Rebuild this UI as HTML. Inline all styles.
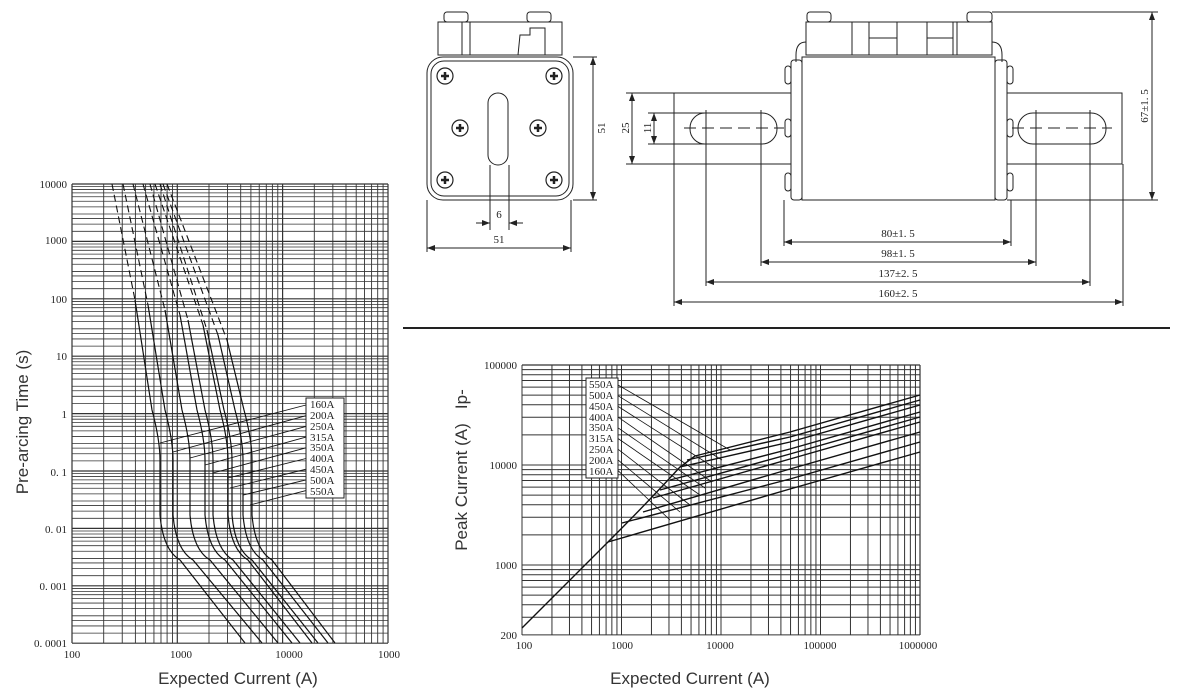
<!DOCTYPE html>
<html><head><meta charset="utf-8"><style>
html,body{margin:0;padding:0;background:#fff;}
svg{display:block;}
.t{font-family:"Liberation Serif",serif;font-size:11px;fill:#222;}
.ax{font-family:"Liberation Sans",sans-serif;font-size:17px;fill:#333;}
.d{stroke:#222;stroke-width:1;fill:none;}
</style></head><body>
<svg id="s" width="1181" height="694" viewBox="0 0 1181 694" xmlns="http://www.w3.org/2000/svg">
<defs>
<marker id="ar" markerWidth="8" markerHeight="6" refX="8" refY="3" orient="auto-start-reverse"><path d="M0,0 L8,3 L0,6 z" fill="#222"/></marker>
</defs>
<g id="grid"></g>
<g id="curves"></g>

<g class="t" text-anchor="end">
<text x="67" y="188">10000</text><text x="67" y="244">1000</text><text x="67" y="303">100</text>
<text x="67" y="360">10</text><text x="67" y="418">1</text><text x="67" y="476">0. 1</text>
<text x="67" y="533">0. 01</text><text x="67" y="590">0. 001</text><text x="67" y="647">0. 0001</text>
</g>
<g class="t" text-anchor="middle">
<text x="72" y="658">100</text><text x="181" y="658">1000</text><text x="289" y="658">10000</text><text x="389" y="658">1000</text>
</g>
<text class="ax" transform="translate(28,422) rotate(-90)" text-anchor="middle">Pre-arcing Time (s)</text>
<text class="ax" x="238" y="684" text-anchor="middle">Expected Current (A)</text>
<rect x="306" y="398" width="38" height="100" fill="#fff" stroke="#222"/>
<g class="t" font-size="10.5">
<text x="310" y="408">160A</text><text x="310" y="419">200A</text><text x="310" y="430">250A</text>
<text x="310" y="441">315A</text><text x="310" y="451">350A</text><text x="310" y="462">400A</text>
<text x="310" y="473">450A</text><text x="310" y="484">500A</text><text x="310" y="495">550A</text>
</g>

<g class="t" text-anchor="end">
<text x="517" y="369">100000</text><text x="517" y="469">10000</text><text x="517" y="569">1000</text><text x="517" y="639">200</text>
</g>
<g class="t" text-anchor="middle">
<text x="524" y="649">100</text><text x="622" y="649">1000</text><text x="720" y="649">10000</text><text x="820" y="649">100000</text><text x="918" y="649">1000000</text>
</g>
<text class="ax" transform="translate(467,470) rotate(-90)" text-anchor="middle" xml:space="preserve">Peak Current (A)   Ip-</text>
<text class="ax" x="690" y="684" text-anchor="middle">Expected Current (A)</text>
<rect x="586" y="378" width="32" height="100" fill="#fff" stroke="#222"/>
<g class="t" font-size="10.5">
<text x="589" y="388">550A</text><text x="589" y="399">500A</text><text x="589" y="410">450A</text>
<text x="589" y="421">400A</text><text x="589" y="431">350A</text><text x="589" y="442">315A</text>
<text x="589" y="453">250A</text><text x="589" y="464">200A</text><text x="589" y="475">160A</text>
</g>

<line x1="403" y1="328" x2="1170" y2="328" stroke="#222" stroke-width="2"/>

<g class="d" stroke-width="1.2">
<rect x="438" y="22" width="124" height="33"/>
<rect x="444" y="12" width="24" height="10" rx="3"/><rect x="527" y="12" width="24" height="10" rx="3"/>
<line x1="462" y1="22" x2="462" y2="55"/><line x1="470" y1="22" x2="470" y2="55"/>
<path d="M518,55 L520,35 L530,35 L530,28 L545,28 L545,55"/>
<rect x="427" y="57" width="146" height="143" rx="16"/>
<rect x="431" y="61" width="138" height="135" rx="13"/>
<rect x="488" y="93" width="20" height="72" rx="10"/>
</g>
<g id="screws1"></g>
<g class="d">
<line x1="573" y1="57" x2="597" y2="57"/><line x1="573" y1="200" x2="597" y2="200"/>
<line x1="593" y1="57" x2="593" y2="200" marker-start="url(#ar)" marker-end="url(#ar)"/>
<line x1="490" y1="165" x2="490" y2="230"/><line x1="509" y1="165" x2="509" y2="230"/>
<line x1="476" y1="223" x2="490" y2="223" marker-end="url(#ar)"/><line x1="523" y1="223" x2="509" y2="223" marker-end="url(#ar)"/>
<line x1="427" y1="200" x2="427" y2="252"/><line x1="571" y1="200" x2="571" y2="252"/>
<line x1="427" y1="248" x2="571" y2="248" marker-start="url(#ar)" marker-end="url(#ar)"/>
</g>
<g class="t" font-size="12" text-anchor="middle">
<text x="499" y="218">6</text><text x="499" y="243">51</text>
<text transform="translate(605,128) rotate(-90)">51</text>
</g>

<g class="d" stroke-width="1.2">
<rect x="674" y="93" width="117" height="71"/>
<rect x="1007" y="93" width="115" height="71"/>
<rect x="690" y="113" width="87" height="31" rx="15"/>
<rect x="1018" y="113" width="88" height="31" rx="15"/>
<rect x="791" y="60" width="11" height="140" rx="3"/>
<rect x="995" y="60" width="12" height="140" rx="3"/>
<rect x="802" y="57" width="193" height="143" fill="#fff"/>
<rect x="806" y="22" width="186" height="33"/>
<rect x="807" y="12" width="24" height="10" rx="3"/><rect x="967" y="12" width="25" height="10" rx="3"/>
<line x1="852" y1="22" x2="852" y2="55"/><line x1="869" y1="22" x2="869" y2="55"/><line x1="897" y1="22" x2="897" y2="55"/>
<line x1="927" y1="22" x2="927" y2="55"/><line x1="953" y1="22" x2="953" y2="55"/><line x1="957" y1="22" x2="957" y2="55"/>
<line x1="869" y1="38" x2="897" y2="38"/><line x1="927" y1="38" x2="953" y2="38"/>
<path d="M806,42 Q796,42 796,55 L796,62"/><path d="M992,42 Q1002,42 1002,55 L1002,62"/>
<rect x="785" y="66" width="6" height="18" rx="3"/><rect x="785" y="119" width="6" height="18" rx="3"/><rect x="785" y="173" width="6" height="18" rx="3"/>
<rect x="1007" y="66" width="6" height="18" rx="3"/><rect x="1007" y="119" width="6" height="18" rx="3"/><rect x="1007" y="173" width="6" height="18" rx="3"/>
</g>
<g class="d" stroke-dasharray="12,6" stroke-width="0.8">
<line x1="684" y1="128" x2="784" y2="128"/><line x1="1012" y1="128" x2="1112" y2="128"/>
</g>
<g class="d" stroke-width="0.8">
<line x1="992" y1="12" x2="1158" y2="12"/><line x1="1007" y1="200" x2="1158" y2="200"/>
<line x1="1152" y1="12" x2="1152" y2="200" marker-start="url(#ar)" marker-end="url(#ar)"/>
<line x1="626" y1="93" x2="674" y2="93"/><line x1="626" y1="164" x2="674" y2="164"/>
<line x1="632" y1="93" x2="632" y2="164" marker-start="url(#ar)" marker-end="url(#ar)"/>
<line x1="648" y1="113" x2="706" y2="113"/><line x1="648" y1="144" x2="706" y2="144"/>
<line x1="654" y1="113" x2="654" y2="144" marker-start="url(#ar)" marker-end="url(#ar)"/>
<line x1="784" y1="200" x2="784" y2="246"/><line x1="1011" y1="200" x2="1011" y2="246"/>
<line x1="761" y1="110" x2="761" y2="266"/><line x1="1036" y1="110" x2="1036" y2="266"/>
<line x1="706" y1="110" x2="706" y2="286"/><line x1="1090" y1="110" x2="1090" y2="286"/>
<line x1="674" y1="164" x2="674" y2="306"/><line x1="1123" y1="164" x2="1123" y2="306"/>
<line x1="784" y1="242" x2="1011" y2="242" marker-start="url(#ar)" marker-end="url(#ar)"/>
<line x1="761" y1="262" x2="1036" y2="262" marker-start="url(#ar)" marker-end="url(#ar)"/>
<line x1="706" y1="282" x2="1090" y2="282" marker-start="url(#ar)" marker-end="url(#ar)"/>
<line x1="674" y1="302" x2="1123" y2="302" marker-start="url(#ar)" marker-end="url(#ar)"/>
</g>
<g class="t" font-size="12" text-anchor="middle">
<text x="898" y="237">80±1. 5</text><text x="898" y="257">98±1. 5</text>
<text x="898" y="277">137±2. 5</text><text x="898" y="297">160±2. 5</text>
<text transform="translate(1148,106) rotate(-90)">67±1. 5</text>
<text transform="translate(629,128) rotate(-90)">25</text>
<text transform="translate(651,128) rotate(-90)">11</text>
</g>
</svg>
<script>
var NS="http://www.w3.org/2000/svg";
function el(p,t,a){var e=document.createElementNS(NS,t);for(var k in a)e.setAttribute(k,a[k]);p.appendChild(e);return e;}
var g=document.getElementById("grid"),c=document.getElementById("curves");
var L=Math.log10;
function lx(v){return 72+L(v/100)*105.3;}
function ly(v){return 184+(4-L(v))*57.4;}
for(var d=0;d<3;d++)for(var k=1;k<10;k++){var x=lx(100*k*Math.pow(10,d));el(g,"line",{x1:x,x2:x,y1:184,y2:643,stroke:"#333","stroke-width":k==1?1.2:0.9});}
el(g,"line",{x1:388,x2:388,y1:184,y2:643,stroke:"#333","stroke-width":1.2});
var ks=[1,1.5,2,2.5,3,4,5,6,7,8,9];
for(var d=-4;d<4;d++)for(var i=0;i<ks.length;i++){var y=ly(ks[i]*Math.pow(10,d));el(g,"line",{x1:72,x2:388,y1:y,y2:y,stroke:"#333","stroke-width":ks[i]==1?1.2:0.8});}
el(g,"line",{x1:72,x2:388,y1:184,y2:184,stroke:"#333","stroke-width":1.2});
function rx(v){return 522+L(v/100)*99.5;}
function ry(v){return 365+(5-L(v))*100;}
for(var d=0;d<4;d++)for(var k=1;k<10;k++){var x=rx(100*k*Math.pow(10,d));el(g,"line",{x1:x,x2:x,y1:365,y2:635,stroke:"#333","stroke-width":1});}
el(g,"line",{x1:920,x2:920,y1:365,y2:635,stroke:"#333","stroke-width":1.2});
for(var d=2;d<5;d++)for(var k=1;k<10;k++){var v=k*Math.pow(10,d);if(v<200)continue;var y=ry(v);el(g,"line",{x1:522,x2:920,y1:y,y2:y,stroke:"#333","stroke-width":1});}
el(g,"line",{x1:522,x2:920,y1:365,y2:365,stroke:"#333","stroke-width":1.2});
var as=[160,173,190,205,213,228,232,243,252],bs=[245,262,278,292,300,312,318,328,335],ts=[112,123,133,143,150,155,160,163,167];
for(var i=0;i<9;i++){var a=as[i],b=bs[i],ye=300+i*5;
el(c,"path",{d:"M"+ts[i]+",184 L"+(a-25)+","+ye,stroke:"#111","stroke-width":1.1,fill:"none","stroke-dasharray":"7,4"});
el(c,"path",{d:"M"+(a-25)+","+ye+" L"+(a-8)+",410 Q"+a+",440 "+a+",460 L"+a+",515 Q"+(a+3)+",550 "+(a+20)+",560 L"+b+",643",stroke:"#111","stroke-width":1.2,fill:"none"});
}
var lp=[[160,443],[173,452],[190,458],[205,465],[213,473],[228,478],[230,488],[243,495],[250,505]];
for(var i=0;i<9;i++)el(c,"line",{x1:306,y1:405+i*10.7,x2:lp[i][0],y2:lp[i][1],stroke:"#111","stroke-width":0.9});
el(c,"path",{d:"M522,628 L608,542 Q650,500 680,467 L695,456",stroke:"#111","stroke-width":1.4,fill:"none"});
var br=[[608,542],[622,523],[643,512],[653,498],[660,490],[670,480],[680,467],[687,460],[695,456]];
var ye=[452,442,432,422,417,412,405,400,395];
for(var i=0;i<9;i++){var y790=ye[i]+37;var p="M"+br[i][0]+","+br[i][1]+" L790,"+y790+" L920,"+ye[i];
el(c,"path",{d:p,stroke:"#111","stroke-width":1.4,fill:"none"});}
var rp=[[730,450],[722,460],[718,470],[712,482],[705,488],[700,495],[690,505],[680,512],[670,520]];
for(var i=0;i<9;i++)el(c,"line",{x1:618,y1:385+i*10.7,x2:rp[i][0],y2:rp[i][1],stroke:"#111","stroke-width":0.8});
var sc=document.getElementById("screws1");
[[445,76],[554,76],[460,128],[538,128],[445,180],[554,180]].forEach(function(p){
el(sc,"circle",{cx:p[0],cy:p[1],r:8,fill:"#fff",stroke:"#222","stroke-width":1.2});
el(sc,"path",{d:"M"+(p[0]-4)+","+p[1]+"h8M"+p[0]+","+(p[1]-4)+"v8",stroke:"#222","stroke-width":2.5});});
</script>
</body></html>
